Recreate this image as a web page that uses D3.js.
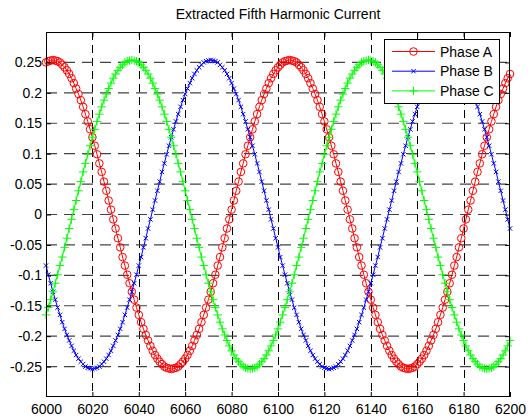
<!DOCTYPE html>
<html><head><meta charset="utf-8">
<script src="https://cdn.jsdelivr.net/npm/d3@7"></script>
<style>body{margin:0;background:#fff} svg text{font-family:Arial,"Liberation Sans",sans-serif}</style>
</head><body><svg id="c" width="530" height="419"></svg>
<script>
const sampleStart = 6000;
const phaseA = [
.250,.252,.253,.254,.253,.252,.250,.246,.242,.237,
.231,.224,.216,.207,.198,.188,.177,.165,.153,.140,
.127,.113,.099,.084,.070,.054,.039,.023,.008,-.008,
-.023,-.039,-.054,-.070,-.084,-.099,-.113,-.127,-.140,-.153,
-.165,-.177,-.188,-.198,-.207,-.216,-.224,-.231,-.237,-.242,
-.246,-.250,-.252,-.253,-.254,-.253,-.252,-.250,-.246,-.242,
-.237,-.231,-.224,-.216,-.207,-.198,-.188,-.177,-.165,-.153,
-.140,-.127,-.113,-.099,-.084,-.070,-.054,-.039,-.023,-.008,
.008,.023,.039,.054,.070,.084,.099,.113,.127,.140,
.153,.165,.177,.188,.198,.207,.216,.224,.231,.237,
.242,.246,.250,.252,.253,.254,.253,.252,.250,.246,
.242,.237,.231,.224,.216,.207,.198,.188,.177,.165,
.153,.140,.127,.113,.099,.084,.070,.054,.039,.023,
.008,-.008,-.023,-.039,-.054,-.070,-.084,-.099,-.113,-.127,
-.140,-.153,-.165,-.177,-.188,-.198,-.207,-.216,-.224,-.231,
-.237,-.242,-.246,-.250,-.252,-.253,-.254,-.253,-.252,-.250,
-.246,-.242,-.237,-.231,-.224,-.216,-.207,-.198,-.188,-.177,
-.165,-.153,-.140,-.127,-.113,-.099,-.084,-.070,-.054,-.039,
-.023,-.008,.008,.023,.039,.054,.070,.084,.099,.113,
.127,.140,.153,.165,.177,.188,.198,.207,.216,.224,
.231];
const phaseB = [
-.084,-.099,-.113,-.127,-.140,-.153,-.165,-.177,-.188,-.198,
-.207,-.216,-.224,-.231,-.237,-.242,-.246,-.250,-.252,-.253,
-.254,-.253,-.252,-.250,-.246,-.242,-.237,-.231,-.224,-.216,
-.207,-.198,-.188,-.177,-.165,-.153,-.140,-.127,-.113,-.099,
-.084,-.070,-.054,-.039,-.023,-.008,.008,.023,.039,.054,
.070,.084,.099,.113,.127,.140,.153,.165,.177,.188,
.198,.207,.216,.224,.231,.237,.242,.246,.250,.252,
.253,.254,.253,.252,.250,.246,.242,.237,.231,.224,
.216,.207,.198,.188,.177,.165,.153,.140,.127,.113,
.099,.084,.070,.054,.039,.023,.008,-.008,-.023,-.039,
-.054,-.070,-.084,-.099,-.113,-.127,-.140,-.153,-.165,-.177,
-.188,-.198,-.207,-.216,-.224,-.231,-.237,-.242,-.246,-.250,
-.252,-.253,-.254,-.253,-.252,-.250,-.246,-.242,-.237,-.231,
-.224,-.216,-.207,-.198,-.188,-.177,-.165,-.153,-.140,-.127,
-.113,-.099,-.084,-.070,-.054,-.039,-.023,-.008,.008,.023,
.039,.054,.070,.084,.099,.113,.127,.140,.153,.165,
.177,.188,.198,.207,.216,.224,.231,.237,.242,.246,
.250,.252,.253,.254,.253,.252,.250,.246,.242,.237,
.231,.224,.216,.207,.198,.188,.177,.165,.153,.140,
.127,.113,.099,.084,.070,.054,.039,.023,.008,-.008,
-.023];
const phaseC = [
-.165,-.153,-.140,-.127,-.113,-.099,-.084,-.070,-.054,-.039,
-.023,-.008,.008,.023,.039,.054,.070,.084,.099,.113,
.127,.140,.153,.165,.177,.188,.198,.207,.216,.224,
.231,.237,.242,.246,.250,.252,.253,.254,.253,.252,
.250,.246,.242,.237,.231,.224,.216,.207,.198,.188,
.177,.165,.153,.140,.127,.113,.099,.084,.070,.054,
.039,.023,.008,-.008,-.023,-.039,-.054,-.070,-.084,-.099,
-.113,-.127,-.140,-.153,-.165,-.177,-.188,-.198,-.207,-.216,
-.224,-.231,-.237,-.242,-.246,-.250,-.252,-.253,-.254,-.253,
-.252,-.250,-.246,-.242,-.237,-.231,-.224,-.216,-.207,-.198,
-.188,-.177,-.165,-.153,-.140,-.127,-.113,-.099,-.084,-.070,
-.054,-.039,-.023,-.008,.008,.023,.039,.054,.070,.084,
.099,.113,.127,.140,.153,.165,.177,.188,.198,.207,
.216,.224,.231,.237,.242,.246,.250,.252,.253,.254,
.253,.252,.250,.246,.242,.237,.231,.224,.216,.207,
.198,.188,.177,.165,.153,.140,.127,.113,.099,.084,
.070,.054,.039,.023,.008,-.008,-.023,-.039,-.054,-.070,
-.084,-.099,-.113,-.127,-.140,-.153,-.165,-.177,-.188,-.198,
-.207,-.216,-.224,-.231,-.237,-.242,-.246,-.250,-.252,-.253,
-.254,-.253,-.252,-.250,-.246,-.242,-.237,-.231,-.224,-.216,
-.207];
const xTicks = [6000,6020,6040,6060,6080,6100,6120,6140,6160,6180,6200];
const yTicks = [-0.25,-0.2,-0.15,-0.1,-0.05,0,0.05,0.1,0.15,0.2,0.25];
const seriesNames = ["Phase A","Phase B","Phase C"];
const seriesColors = ["#ff0000","#0000ff","#00ff00"];
const titleText = "Extracted Fifth Harmonic Current";

const L=46, R=510, T=32, B=397;
const svg = d3.select("#c");
const x = d3.scaleLinear().domain([6000,6200]).range([L,R]);
const y = d3.scaleLinear().domain([-0.3,0.3]).range([B,T]);

svg.append("rect").attr("width",530).attr("height",419).attr("fill","#fff");
svg.append("rect").attr("x",L).attr("y",T).attr("width",R-L).attr("height",B-T).attr("fill","#fff");

// grid
const grid = svg.append("g");
grid.selectAll("line.gx").data(xTicks.slice(1,-1)).join("line")
  .attr("x1",d=>Math.round(x(d))+0.5).attr("x2",d=>Math.round(x(d))+0.5)
  .attr("y1",T).attr("y2",B).attr("stroke","#000").attr("stroke-width",1)
  .attr("stroke-dasharray","8,5");
grid.selectAll("line.gy").data(yTicks).join("line")
  .attr("x1",L).attr("x2",R).attr("y1",d=>y(d)).attr("y2",d=>y(d))
  .attr("stroke","#444").attr("stroke-width",1.2).attr("stroke-dasharray","11,7");

const series = [phaseA, phaseB, phaseC];
const line = d3.line().x((d,i)=>x(sampleStart+i)).y(d=>y(d));
const plot = svg.append("g");

function marker(g, type, color, cx, cy){
  if(type===0){
    g.append("circle").attr("cx",cx).attr("cy",cy).attr("r",3.8).attr("fill","none").attr("stroke",color).attr("stroke-width",1);
  } else if(type===1){
    const s=2.2;
    g.append("path").attr("d",`M${cx-s},${cy-s}L${cx+s},${cy+s}M${cx-s},${cy+s}L${cx+s},${cy-s}`).attr("stroke",color).attr("stroke-width",1).attr("fill","none");
  } else {
    const s=4.2;
    g.append("path").attr("d",`M${cx-s},${cy}L${cx+s},${cy}M${cx},${cy-s}L${cx},${cy+s}`).attr("stroke",color).attr("stroke-width",1).attr("fill","none");
  }
}

series.forEach((vals,si)=>{
  const g = plot.append("g");
  g.append("path").attr("d",line(vals)).attr("fill","none").attr("stroke",seriesColors[si]).attr("stroke-width",1);
  vals.forEach((v,i)=>marker(g, si, seriesColors[si], x(sampleStart+i), y(v)));
});

// axes (inward ticks)
const fmt = d=>String(d);
const ax = svg.append("g").attr("transform",`translate(0,${B})`)
  .call(d3.axisBottom(x).tickValues(xTicks).tickSize(-5).tickSizeOuter(0).tickPadding(7).tickFormat(fmt));
const axT = svg.append("g").attr("transform",`translate(0,${T})`)
  .call(d3.axisTop(x).tickValues(xTicks).tickSize(-5).tickSizeOuter(0).tickFormat(""));
const ay = svg.append("g").attr("transform",`translate(${L},0)`)
  .call(d3.axisLeft(y).tickValues(yTicks).tickSize(-5).tickSizeOuter(0).tickPadding(4).tickFormat(fmt));
const ayR = svg.append("g").attr("transform",`translate(${R},0)`)
  .call(d3.axisRight(y).tickValues(yTicks).tickSize(-5).tickSizeOuter(0).tickFormat(""));
[ax,axT,ay,ayR].forEach(a=>{
  a.selectAll("text").attr("font-size",14).attr("font-family","Arial, 'Liberation Sans', sans-serif").attr("fill","#000");
  a.selectAll("line").attr("stroke","#000");
  a.select(".domain").remove();
});
svg.append("rect").attr("x",L+0.5).attr("y",T+0.5).attr("width",R-L-1).attr("height",B-T-1)
  .attr("fill","none").attr("stroke","#000").attr("stroke-width",1);

// title
svg.append("text").attr("x",(L+R)/2).attr("y",19).attr("text-anchor","middle")
  .attr("font-size",14).attr("fill","#000").text(titleText);

// legend
const lg = svg.append("g");
lg.append("rect").attr("x",384.5).attr("y",39.5).attr("width",115).attr("height",64)
  .attr("fill","#fff").attr("stroke","#000").attr("stroke-width",1);
seriesNames.forEach((name,i)=>{
  const cy = 51.5 + i*19.7;
  lg.append("line").attr("x1",392).attr("x2",435).attr("y1",cy).attr("y2",cy).attr("stroke",seriesColors[i]).attr("stroke-width",1);
  marker(lg, i, seriesColors[i], 413.5, cy);
  lg.append("text").attr("x",440).attr("y",cy).attr("dy","0.36em").attr("font-size",14).attr("fill","#000").text(name);
});
</script></body></html>
